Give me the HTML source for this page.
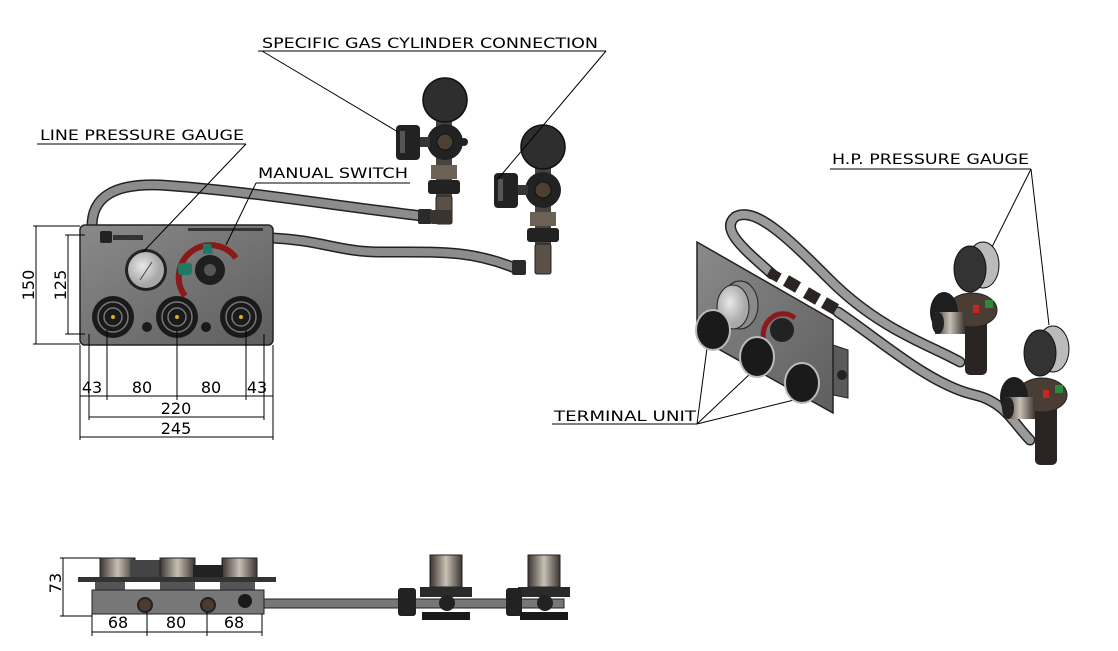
<!DOCTYPE html>
<html><head><meta charset="utf-8"><style>
html,body{margin:0;padding:0;background:#fff;}
svg{display:block;}
text{font-family:"DejaVu Sans","Liberation Sans",sans-serif;fill:#000;}
</style></head><body>
<svg width="1118" height="651" viewBox="0 0 1118 651" xmlns="http://www.w3.org/2000/svg">
<defs>
<linearGradient id="pg" x1="0" y1="0" x2="1" y2="1"><stop offset="0" stop-color="#8a8a8a"/><stop offset="1" stop-color="#5e5e5e"/></linearGradient>
<linearGradient id="cyl" x1="0" y1="0" x2="1" y2="0"><stop offset="0" stop-color="#3a3530"/><stop offset=".5" stop-color="#c8c0b4"/><stop offset="1" stop-color="#3a3530"/></linearGradient>
<radialGradient id="gface" cx=".4" cy=".4"><stop offset="0" stop-color="#e8e8e8"/><stop offset="1" stop-color="#a8a8a8"/></radialGradient>
</defs>

<!-- ===== hoses front view ===== -->
<g fill="none" stroke-linecap="round">
<path d="M92,226 C92,200 110,183 160,185 C240,190 330,205 422,216" stroke="#222" stroke-width="11"/>
<path d="M92,226 C92,200 110,183 160,185 C240,190 330,205 422,216" stroke="#8c8c8c" stroke-width="8"/>
<path d="M272,238 C320,240 340,252 380,252 C440,252 470,250 515,268" stroke="#222" stroke-width="11"/>
<path d="M272,238 C320,240 340,252 380,252 C440,252 470,250 515,268" stroke="#8c8c8c" stroke-width="8"/>
</g>
<rect x="418" y="209" width="14" height="15" rx="2" fill="#2a2a2a"/>
<rect x="512" y="260" width="14" height="15" rx="2" fill="#2a2a2a"/>

<!-- regulator 1 -->
<g>
<rect x="436" y="120" width="16" height="100" fill="#4a4440"/>
<rect x="431" y="165" width="26" height="14" fill="#6b6255"/>
<rect x="428" y="180" width="32" height="14" rx="3" fill="#222"/>
<rect x="436" y="196" width="16" height="28" rx="2" fill="#5a5045" stroke="#222"/>
<rect x="430" y="210" width="22" height="14" rx="3" fill="#3a3430"/>
<circle cx="445" cy="100" r="22" fill="#2e2e2e" stroke="#111" stroke-width="1.5"/>
<circle cx="445" cy="142" r="18" fill="#222"/>
<circle cx="445" cy="142" r="8" fill="#4a4036" stroke="#111"/>
<rect x="418" y="137" width="12" height="10" fill="#3a3430"/>
<rect x="396" y="125" width="24" height="35" rx="4" fill="#222"/>
<rect x="400" y="131" width="5" height="22" fill="#555"/>
<circle cx="464" cy="142" r="4" fill="#222"/>
</g>
<!-- regulator 2 -->
<g>
<rect x="535" y="168" width="16" height="100" fill="#4a4440"/>
<rect x="530" y="212" width="26" height="14" fill="#6b6255"/>
<rect x="527" y="228" width="32" height="14" rx="3" fill="#222"/>
<rect x="535" y="244" width="16" height="30" rx="2" fill="#5a5045" stroke="#222"/>
<circle cx="543" cy="147" r="22" fill="#2e2e2e" stroke="#111" stroke-width="1.5"/>
<circle cx="543" cy="190" r="18" fill="#222"/>
<circle cx="543" cy="190" r="8" fill="#4a4036" stroke="#111"/>
<rect x="516" y="185" width="12" height="10" fill="#3a3430"/>
<rect x="494" y="173" width="24" height="35" rx="4" fill="#222"/>
<rect x="498" y="179" width="5" height="22" fill="#555"/>
</g>

<!-- ===== front panel ===== -->
<rect x="80" y="225" width="193" height="120" rx="5" fill="url(#pg)" stroke="#222" stroke-width="1.5"/>
<rect x="100" y="231" width="12" height="12" rx="2" fill="#222"/>
<rect x="113" y="235" width="30" height="5" fill="#333"/>
<rect x="188" y="228" width="75" height="3" fill="#333"/>
<circle cx="146" cy="270" r="21" fill="#222"/>
<circle cx="146" cy="270" r="18" fill="url(#gface)"/>
<line x1="140" y1="280" x2="152" y2="262" stroke="#444" stroke-width="1"/>
<path d="M185,296 A28,28 0 1 1 236,258" fill="none" stroke="#8a1a1a" stroke-width="6"/>
<path d="M203,244 l8,0 l2,10 l-10,0z" fill="#1f7a63"/>
<rect x="178" y="263" width="14" height="12" rx="3" fill="#1f7a63"/>
<circle cx="210" cy="270" r="15" fill="#1e1e1e"/>
<circle cx="210" cy="270" r="6" fill="#555"/>
<g fill="#1a1a1a">
<circle cx="113" cy="317" r="21"/><circle cx="177" cy="317" r="21"/><circle cx="241" cy="317" r="21"/>
</g>
<g fill="none" stroke="#777" stroke-width="1.5">
<circle cx="113" cy="317" r="15"/><circle cx="177" cy="317" r="15"/><circle cx="241" cy="317" r="15"/>
<circle cx="113" cy="317" r="9"/><circle cx="177" cy="317" r="9"/><circle cx="241" cy="317" r="9"/>
</g>
<g fill="#d4b020"><circle cx="113" cy="317" r="2"/><circle cx="177" cy="317" r="2"/><circle cx="241" cy="317" r="2"/></g>
<circle cx="147" cy="327" r="5" fill="#1a1a1a"/><circle cx="206" cy="327" r="5" fill="#1a1a1a"/>

<!-- dimensions front -->
<g stroke="#000" stroke-width="1" fill="none">
<line x1="33" y1="226" x2="80" y2="226"/><line x1="33" y1="344" x2="80" y2="344"/>
<line x1="36" y1="226" x2="36" y2="344"/>
<line x1="65" y1="235" x2="85" y2="235"/><line x1="65" y1="334" x2="85" y2="334"/>
<line x1="68" y1="235" x2="68" y2="334"/>
<line x1="80" y1="345" x2="80" y2="440"/><line x1="273" y1="345" x2="273" y2="440"/>
<line x1="89" y1="334" x2="89" y2="420"/><line x1="264" y1="334" x2="264" y2="420"/>
<line x1="107" y1="330" x2="107" y2="400"/><line x1="177" y1="330" x2="177" y2="400"/><line x1="246" y1="330" x2="246" y2="400"/>
<line x1="80" y1="396" x2="273" y2="396"/>
<line x1="89" y1="417" x2="264" y2="417"/>
<line x1="80" y1="437" x2="273" y2="437"/>
</g>
<g font-size="16">
<text x="28" y="285" text-anchor="middle" transform="rotate(-90 28 285)" dy="6">150</text>
<text x="60" y="285" text-anchor="middle" transform="rotate(-90 60 285)" dy="6">125</text>
<text x="92" y="393" text-anchor="middle">43</text>
<text x="142" y="393" text-anchor="middle">80</text>
<text x="211" y="393" text-anchor="middle">80</text>
<text x="257" y="393" text-anchor="middle">43</text>
<text x="176" y="414" text-anchor="middle">220</text>
<text x="176" y="434" text-anchor="middle">245</text>
</g>

<!-- labels -->
<g font-size="14">
<text x="262" y="48" textLength="336" lengthAdjust="spacingAndGlyphs">SPECIFIC GAS CYLINDER CONNECTION</text>
<text x="40" y="140" textLength="204" lengthAdjust="spacingAndGlyphs">LINE PRESSURE GAUGE</text>
<text x="258" y="178" textLength="150" lengthAdjust="spacingAndGlyphs">MANUAL SWITCH</text>
<text x="832" y="164" textLength="197" lengthAdjust="spacingAndGlyphs">H.P. PRESSURE GAUGE</text>
<text x="554" y="421" textLength="142" lengthAdjust="spacingAndGlyphs">TERMINAL UNIT</text>
</g>
<g stroke="#000" stroke-width="1" fill="none">
<line x1="258" y1="51" x2="606" y2="51"/><line x1="262" y1="51" x2="398" y2="132"/><line x1="606" y1="51" x2="497" y2="180"/>
<line x1="37" y1="144" x2="246" y2="144"/><line x1="246" y1="144" x2="143" y2="252"/>
<line x1="256" y1="183" x2="410" y2="183"/><line x1="256" y1="183" x2="226" y2="245"/>
<line x1="830" y1="169" x2="1031" y2="169"/><line x1="1031" y1="169" x2="991" y2="249"/><line x1="1031" y1="169" x2="1049" y2="325"/>
<line x1="552" y1="424" x2="697" y2="424"/><line x1="697" y1="424" x2="707" y2="348"/><line x1="697" y1="424" x2="752" y2="372"/><line x1="697" y1="424" x2="798" y2="399"/>
</g>

<!-- ===== isometric view ===== -->
<g fill="none" stroke-linecap="round">
<path d="M772,274 C745,250 720,230 735,217 C755,205 790,240 830,280 C880,330 930,345 960,362" stroke="#222" stroke-width="11"/>
<path d="M772,274 C745,250 720,230 735,217 C755,205 790,240 830,280 C880,330 930,345 960,362" stroke="#9a9a9a" stroke-width="8"/>
<path d="M838,312 C880,340 930,385 975,395 C1005,402 1015,425 1030,440" stroke="#222" stroke-width="11"/>
<path d="M838,312 C880,340 930,385 975,395 C1005,402 1015,425 1030,440" stroke="#9a9a9a" stroke-width="8"/>
</g>
<polygon points="833,345 848,350 848,398 833,395" fill="#5a5a5a" stroke="#222"/>
<circle cx="842" cy="375" r="5" fill="#222"/>
<polygon points="697,242 833,320 833,413 697,337" fill="url(#pg)" stroke="#222" stroke-width="1.5"/>
<g fill="#2a2522">
<rect x="768" y="270" width="12" height="10" transform="rotate(30 774 275)"/>
<rect x="785" y="278" width="14" height="12" transform="rotate(30 792 284)"/>
<rect x="805" y="290" width="14" height="12" transform="rotate(30 812 296)"/>
<rect x="823" y="300" width="14" height="12" transform="rotate(30 830 306)"/>
</g>
<ellipse cx="740" cy="305" rx="18" ry="24" fill="#8a8a8a" stroke="#222"/>
<ellipse cx="733" cy="307" rx="16" ry="22" fill="url(#gface)" stroke="#222"/>
<path d="M765,345 A20,22 0 0 1 795,318" fill="none" stroke="#8a1a1a" stroke-width="5"/>
<circle cx="782" cy="330" r="12" fill="#222"/>
<g fill="#1a1a1a" stroke="#bbb" stroke-width="2">
<ellipse cx="713" cy="330" rx="17" ry="20"/><ellipse cx="757" cy="357" rx="17" ry="20"/><ellipse cx="802" cy="383" rx="17" ry="20"/>
</g>
<!-- iso regulators -->
<g>
<rect x="965" y="300" width="22" height="75" rx="5" fill="#2a2522"/>
<ellipse cx="972" cy="310" rx="25" ry="17" fill="#4a3e34" stroke="#222"/>
<ellipse cx="944" cy="312" rx="14" ry="20" fill="#1e1e1e"/>
<rect x="935" y="312" width="30" height="22" fill="url(#cyl)"/>
<ellipse cx="938" cy="323" rx="6" ry="11" fill="#222"/>
<rect x="985" y="300" width="8" height="8" fill="#2d8a3a"/><rect x="973" y="305" width="6" height="8" fill="#c22"/>
<ellipse cx="983" cy="265" rx="16" ry="23" fill="#bbb" stroke="#111"/>
<ellipse cx="970" cy="269" rx="16" ry="23" fill="#333" stroke="#111"/>
</g>
<g>
<rect x="1035" y="385" width="22" height="80" rx="5" fill="#2a2522"/>
<ellipse cx="1042" cy="395" rx="25" ry="17" fill="#4a3e34" stroke="#222"/>
<ellipse cx="1014" cy="397" rx="14" ry="20" fill="#1e1e1e"/>
<rect x="1005" y="397" width="30" height="22" fill="url(#cyl)"/>
<ellipse cx="1008" cy="408" rx="6" ry="11" fill="#222"/>
<rect x="1055" y="385" width="8" height="8" fill="#2d8a3a"/><rect x="1043" y="390" width="6" height="8" fill="#c22"/>
<ellipse cx="1053" cy="349" rx="16" ry="23" fill="#bbb" stroke="#111"/>
<ellipse cx="1040" cy="353" rx="16" ry="23" fill="#333" stroke="#111"/>
</g>

<!-- ===== bottom view ===== -->
<rect x="100" y="558" width="35" height="20" fill="url(#cyl)" stroke="#222"/>
<rect x="130" y="560" width="35" height="18" fill="#444"/>
<rect x="160" y="558" width="35" height="20" fill="url(#cyl)" stroke="#222"/>
<rect x="222" y="558" width="35" height="20" fill="url(#cyl)" stroke="#222"/>
<rect x="193" y="565" width="30" height="13" fill="#222"/>
<rect x="78" y="577" width="198" height="5" fill="#333"/>
<rect x="95" y="582" width="30" height="8" fill="#555"/><rect x="160" y="582" width="35" height="8" fill="#555"/><rect x="220" y="582" width="35" height="8" fill="#555"/>
<rect x="92" y="590" width="172" height="24" fill="#777" stroke="#222"/>
<circle cx="145" cy="605" r="7" fill="#4a3a30" stroke="#222" stroke-width="2"/>
<circle cx="208" cy="605" r="7" fill="#4a3a30" stroke="#222" stroke-width="2"/>
<circle cx="245" cy="601" r="7" fill="#1a1a1a"/>
<rect x="264" y="599" width="300" height="9" fill="#777" stroke="#222"/>
<g>
<rect x="430" y="555" width="32" height="32" fill="url(#cyl)" stroke="#222"/>
<rect x="420" y="587" width="52" height="10" fill="#2a2a2a"/>
<rect x="398" y="588" width="18" height="28" rx="3" fill="#222"/>
<circle cx="447" cy="603" r="8" fill="#222"/>
<rect x="422" y="612" width="48" height="8" fill="#1a1a1a"/>
</g>
<g>
<rect x="528" y="555" width="32" height="32" fill="url(#cyl)" stroke="#222"/>
<rect x="518" y="587" width="52" height="10" fill="#2a2a2a"/>
<rect x="506" y="588" width="16" height="28" rx="3" fill="#222"/>
<circle cx="545" cy="603" r="8" fill="#222"/>
<rect x="520" y="612" width="48" height="8" fill="#1a1a1a"/>
</g>
<g stroke="#000" stroke-width="1" fill="none">
<line x1="60" y1="558" x2="100" y2="558"/><line x1="60" y1="616" x2="92" y2="616"/>
<line x1="63" y1="558" x2="63" y2="616"/>
<line x1="92" y1="614" x2="92" y2="636"/><line x1="147" y1="612" x2="147" y2="636"/><line x1="207" y1="612" x2="207" y2="636"/><line x1="262" y1="614" x2="262" y2="636"/>
<line x1="92" y1="632" x2="262" y2="632"/>
</g>
<g font-size="16">
<text x="55" y="583" text-anchor="middle" transform="rotate(-90 55 583)" dy="6">73</text>
<text x="118" y="628" text-anchor="middle">68</text>
<text x="176" y="628" text-anchor="middle">80</text>
<text x="234" y="628" text-anchor="middle">68</text>
</g>
</svg>
</body></html>
